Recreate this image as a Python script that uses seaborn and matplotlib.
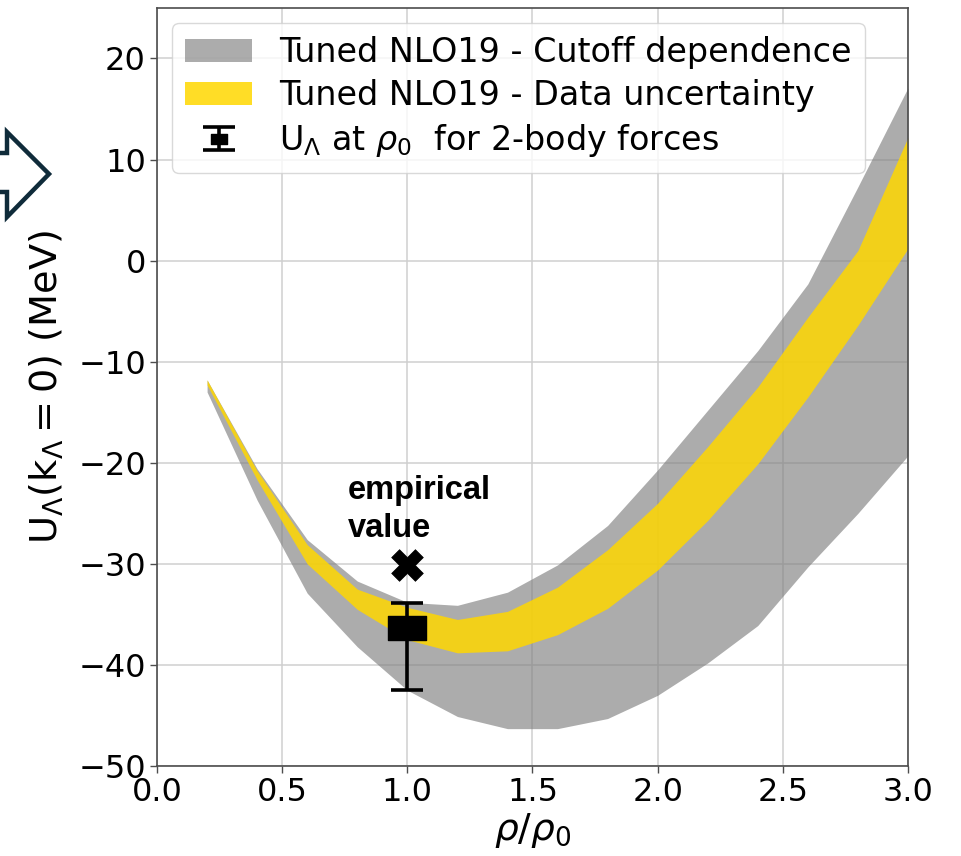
import numpy as np
import pandas as pd
import matplotlib
matplotlib.use("Agg")
import matplotlib.pyplot as plt
from matplotlib.patches import Polygon
from matplotlib.path import Path
from matplotlib.legend_handler import HandlerErrorbar
from matplotlib.container import ErrorbarContainer
import seaborn as sns

# Lambda single-particle potential vs density (Tuned NLO19)
rho = [0.2, 0.4, 0.6, 0.8, 1.0, 1.2, 1.4, 1.6, 1.8, 2.0, 2.2, 2.4, 2.6, 2.8, 3.0]
cutoff_upper = [-11.8, -20.6, -27.6, -31.7, -33.8, -34.1, -32.8, -30.1, -26.2,
                -20.7, -14.8, -8.9, -2.3, 7.3, 17.1]
cutoff_lower = [-13.0, -23.7, -32.9, -38.2, -42.5, -45.1, -46.3, -46.3, -45.3,
                -43.0, -39.8, -36.1, -30.3, -25.0, -19.3]
data_upper = [-11.8, -20.8, -28.1, -32.5, -34.3, -35.5, -34.7, -32.3, -28.6,
              -24.0, -18.4, -12.5, -5.6, 1.0, 12.2]
data_lower = [-12.3, -21.7, -30.0, -34.5, -37.5, -38.8, -38.6, -37.0, -34.4,
              -30.6, -25.7, -20.1, -13.5, -6.4, 1.2]

# two-body result at saturation density
rho_2body = [1.0]
u_2body = [-36.3]
u_2body_err_low = [6.2]
u_2body_err_high = [2.4]

# empirical value
rho_emp = [1.0]
u_emp = [-30.1]

labels = ["Tuned NLO19 - Cutoff dependence",
          "Tuned NLO19 - Data uncertainty",
          r"U$_\Lambda$ at $\rho_0$  for 2-body forces"]

sns.set_theme(style="whitegrid")
plt.rcParams["font.family"] = ["DejaVu Sans"]
plt.rcParams["mathtext.fontset"] = "dejavusans"
plt.rcParams["text.color"] = "black"

df = pd.DataFrame({"rho": rho, "c_lo": cutoff_lower, "c_hi": cutoff_upper,
                   "d_lo": data_lower, "d_hi": data_upper})

fig = plt.figure(figsize=(9.61, 8.56), dpi=100)
ax = fig.add_axes([0.1634, 0.1051, 0.7814, 0.8856])

ax.fill_between(df["rho"], df["c_lo"], df["c_hi"], color="grey", alpha=0.65,
                linewidth=0, label=labels[0])
ax.fill_between(df["rho"], df["d_lo"], df["d_hi"], color="gold", alpha=0.85,
                linewidth=0, label=labels[1])

# flat rectangular marker for the two-body point
rect = Path([(-1, -0.66), (1, -0.66), (1, 0.66), (-1, 0.66), (-1, -0.66)],
            [Path.MOVETO, Path.LINETO, Path.LINETO, Path.LINETO, Path.CLOSEPOLY])
ax.errorbar(rho_2body, u_2body, yerr=[u_2body_err_low, u_2body_err_high],
            marker=rect, markersize=27, color="black", linestyle="none",
            ecolor="black", elinewidth=2.6, capsize=11.5, capthick=2.6,
            label=labels[2], zorder=4)
sns.scatterplot(x=rho_emp, y=u_emp, marker="X", s=520, color="black",
                edgecolor="black", linewidth=0.5, ax=ax, zorder=5)

ax.text(0.763, -21.2, "empirical\nvalue", fontsize=23.5, fontweight="bold",
        family=["Liberation Sans", "DejaVu Sans"], ha="left", va="top",
        linespacing=1.3, color="black")

ax.set_xlim(0, 3.0)
ax.set_ylim(-50, 25)
ax.set_xticks(np.arange(0, 3.01, 0.5))
ax.set_yticks(np.arange(-50, 21, 10))
ax.tick_params(axis="both", labelsize=23, length=5, width=1, color="0.3",
               labelcolor="black", bottom=True, left=True, pad=3)
ax.grid(True, color="#cfcfcf", linewidth=1.1)
for sp in ax.spines.values():
    sp.set_color("0.3")
    sp.set_linewidth(1.2)

ax.set_xlabel(r"$\rho/\rho_0$", fontsize=27, color="black", labelpad=2)
ax.set_ylabel(r"$\mathrm{U_\Lambda(k_\Lambda = 0)}$ (MeV)", fontsize=27.5,
              color="black", labelpad=9)


def shrink_marker(legend_artist, orig_artist):
    legend_artist.update_from(orig_artist)
    if hasattr(orig_artist, "get_marker") and isinstance(orig_artist.get_marker(), Path):
        legend_artist.set_markersize(11)


handles, hl = ax.get_legend_handles_labels()
order = [hl.index(l) for l in labels]
ax.legend([handles[i] for i in order], labels, loc="upper left",
          fontsize=24, framealpha=0.8, edgecolor="#d0d0d0", fancybox=True,
          borderaxespad=0.45, handlelength=2.0, labelspacing=0.3,
          handler_map={ErrorbarContainer: HandlerErrorbar(xerr_size=0.35,
                                                          update_func=shrink_marker)})

# hollow arrow at the left margin
W, H = 961.0, 856.0
arrow_px = [(-12, 153), (7, 153), (7, 132), (49, 174), (7, 217), (7, 192), (-12, 192)]
arrow = Polygon([(x / W, 1 - y / H) for x, y in arrow_px], closed=True,
                fill=False, edgecolor="#0f2b3a", linewidth=3.2,
                transform=fig.transFigure, clip_on=False, joinstyle="miter")
fig.add_artist(arrow)

fig.savefig("out.png", dpi=100)
